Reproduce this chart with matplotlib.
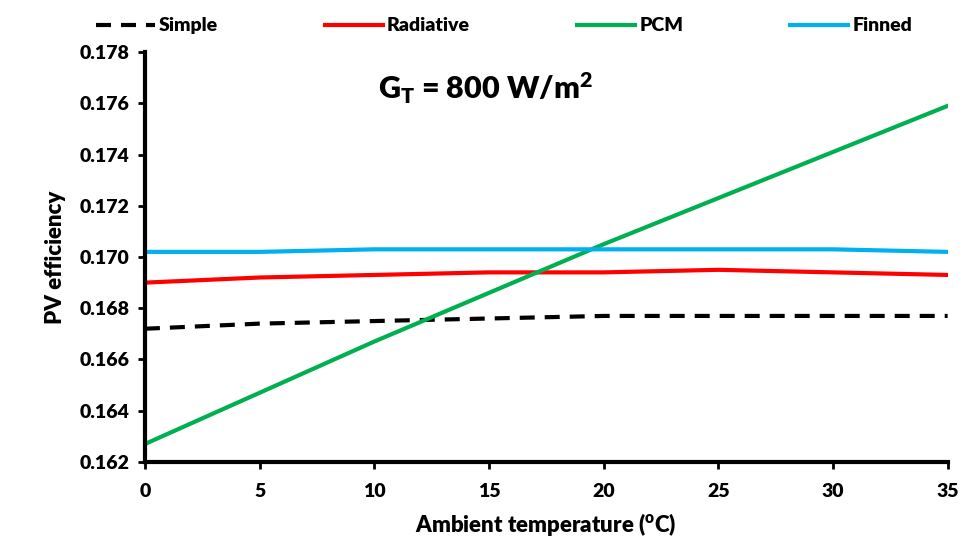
import matplotlib
matplotlib.use("Agg")
import matplotlib.pyplot as plt

plt.rcParams['font.family'] = ['Lato', 'DejaVu Sans']
plt.rcParams['font.weight'] = 'heavy'
plt.rcParams['mathtext.fontset'] = 'custom'
plt.rcParams['mathtext.rm'] = 'Lato:heavy'
plt.rcParams['mathtext.bf'] = 'Lato:heavy'
plt.rcParams['mathtext.it'] = 'Lato:heavy'

temps = [0, 5, 10, 15, 20, 25, 30, 35]
simple = [0.1672, 0.1674, 0.1675, 0.1676, 0.1677, 0.1677, 0.1677, 0.1677]
radiative = [0.1690, 0.1692, 0.1693, 0.1694, 0.1694, 0.1695, 0.1694, 0.1693]
pcm = [0.1627, 0.1647, 0.1667, 0.1686, 0.1705, 0.1723, 0.1741, 0.1759]
finned = [0.1702, 0.1702, 0.1703, 0.1703, 0.1703, 0.1703, 0.1703, 0.1702]
yticks = [0.162, 0.164, 0.166, 0.168, 0.170, 0.172, 0.174, 0.176, 0.178]
xticks = [0, 5, 10, 15, 20, 25, 30, 35]

W = 'heavy'

fig = plt.figure(figsize=(9.66, 5.48), dpi=100)
ax = fig.add_axes([0.150, 0.157, 0.831, 0.748])

ax.plot(temps, simple, color='black', lw=3, ls=(0, (3.6, 2.4)), label='Simple')
ax.plot(temps, radiative, color='#ff0000', lw=3, label='Radiative')
ax.plot(temps, pcm, color='#00b050', lw=3, label='PCM')
ax.plot(temps, finned, color='#00b0f0', lw=3, label='Finned')

ax.set_xlim(0, 35)
ax.set_ylim(0.162, 0.178)
ax.set_xticks(xticks)
ax.set_yticks(yticks)
ax.set_yticklabels([f"{v:.3f}" for v in yticks])
ax.tick_params(axis='both', direction='out', length=5, width=2, labelsize=14, pad=6)
ax.tick_params(axis='x', pad=10)
for lab in ax.get_xticklabels() + ax.get_yticklabels():
    lab.set_fontweight(W)

for s in ['top', 'right']:
    ax.spines[s].set_visible(False)
ax.spines['left'].set_linewidth(3)
ax.spines['bottom'].set_linewidth(3)

ax.set_xlabel(r'Ambient temperature ($^\mathrm{o}$C)', fontsize=16, fontweight=W, labelpad=8)
ax.set_ylabel('PV efficiency', fontsize=16, fontweight=W, labelpad=10)

ax.text(0.29, 0.955, r'G$_\mathrm{T}$ = 800 W/m$^\mathrm{2}$', transform=ax.transAxes,
        fontsize=22, fontweight=W, va='top', ha='left')

fig.legend(loc='upper center', bbox_to_anchor=(0.522, 1.0), ncol=4, frameon=False,
           prop={'weight': W, 'size': 14}, handlelength=3.0, handletextpad=0.2,
           columnspacing=5.5)

fig.savefig('out.png', dpi=100)
